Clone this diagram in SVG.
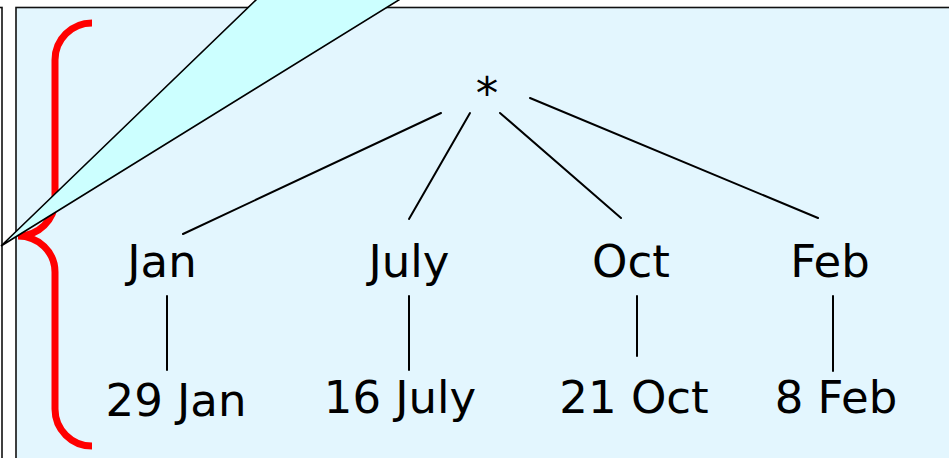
<svg xmlns="http://www.w3.org/2000/svg" width="949" height="458" viewBox="0 0 949 458">
<style>
.t{font-family:"DejaVu Sans","Verdana",sans-serif;font-size:45px;fill:#000;text-anchor:middle}
.c{stroke:#000;stroke-width:2;fill:none;stroke-linecap:round}
</style>
<rect x="0" y="0" width="949" height="458" fill="#fff"/>
<rect id="leftbox" x="-20" y="7.5" width="22" height="470" fill="#fff" stroke="#111" stroke-width="1.6"/>
<rect id="panel" x="16" y="7.5" width="950" height="470" fill="#e3f6fe" stroke="#111" stroke-width="1.6"/>
<path id="brace" d="M92,23 A37,37 0 0 0 55,60 L55,200 A37,36 0 0 1 18,236 A37,36 0 0 1 55,272 L55,409 A37,37 0 0 0 92,446" fill="none" stroke="#f00" stroke-width="7"/>
<polygon id="callout" points="1,246 258,-2 402,-2" fill="#ccffff" stroke="#000" stroke-width="1.6" stroke-linejoin="miter"/>
<g id="connectors">
<line class="c" x1="183" y1="234" x2="441" y2="113"/>
<line class="c" x1="409" y1="219" x2="470" y2="113"/>
<line class="c" x1="500" y1="113" x2="621" y2="218"/>
<line class="c" x1="530" y1="98" x2="818" y2="218"/>
<line class="c" x1="167" y1="296" x2="167" y2="370"/>
<line class="c" x1="409" y1="296" x2="409" y2="370"/>
<line class="c" x1="637" y1="296" x2="637" y2="356"/>
<line class="c" x1="833" y1="296" x2="833" y2="371"/>
</g>
<g id="root"><text class="t" x="487" y="109">*</text></g>
<g id="jan"><text class="t" x="162" y="277">Jan</text></g>
<g id="july"><text class="t" x="409" y="277">July</text></g>
<g id="oct"><text class="t" x="631" y="277">Oct</text></g>
<g id="feb"><text class="t" x="830" y="277">Feb</text></g>
<g id="jan29"><text class="t" x="176" y="416">29 Jan</text></g>
<g id="july16"><text class="t" x="400" y="413">16 July</text></g>
<g id="oct21"><text class="t" x="634" y="413">21 Oct</text></g>
<g id="feb8"><text class="t" x="836" y="413">8 Feb</text></g>
</svg>
